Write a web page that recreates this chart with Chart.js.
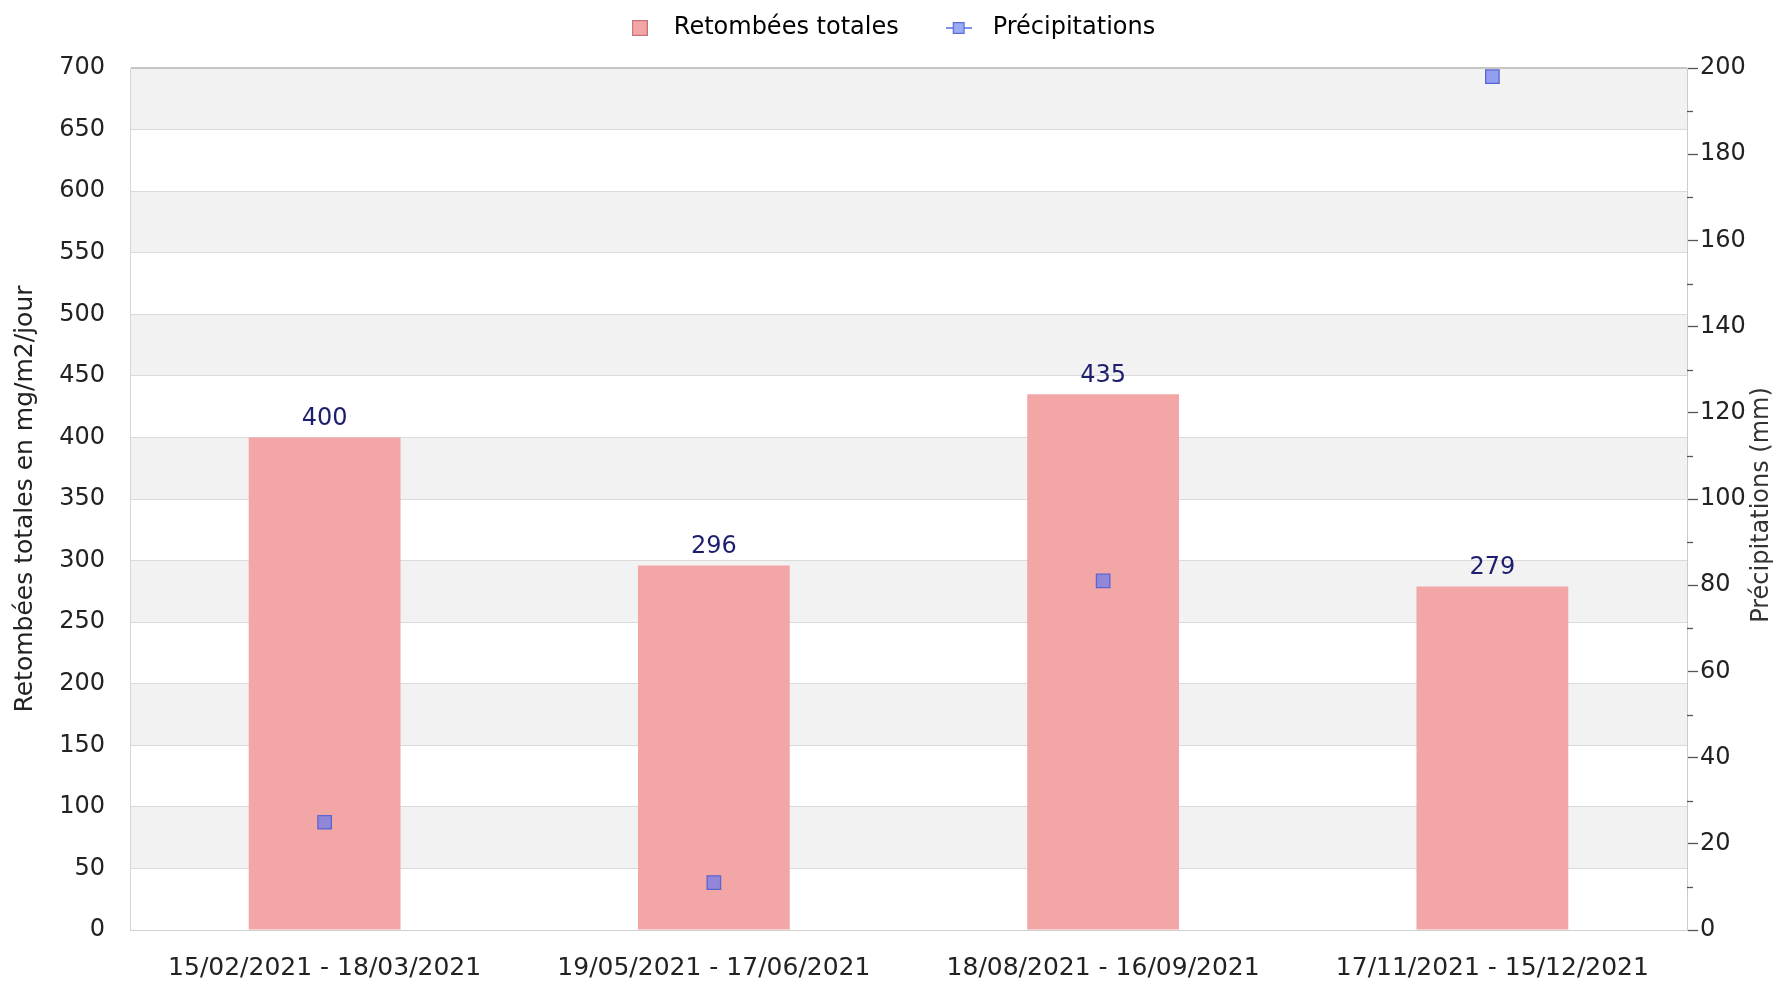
<!DOCTYPE html>
<html><head><meta charset="utf-8">
<script src="https://cdn.jsdelivr.net/npm/chart.js@4/dist/chart.umd.min.js"></script>
<style>html,body{margin:0;padding:0;background:#fff;} #wrap{width:1773px;height:981px;position:relative;}</style>
</head><body><div id="wrap"><canvas id="c"></canvas></div>
<script>
const categories = ['15/02/2021 - 18/03/2021', '19/05/2021 - 17/06/2021', '18/08/2021 - 16/09/2021', '17/11/2021 - 15/12/2021'];
const retombees = [400, 296, 435, 279];
const precipitations = [25, 11, 81, 198];
const seriesNames = ['Retombées totales', 'Précipitations'];
const leftTickValues = [0, 50, 100, 150, 200, 250, 300, 350, 400, 450, 500, 550, 600, 650, 700];
const rightTickValues = [0, 20, 40, 60, 80, 100, 120, 140, 160, 180, 200];
const rightMinorTicks = [10, 30, 50, 70, 90, 110, 130, 150, 170, 190];
const leftTitle = 'Retombées totales en mg/m2/jour';
const rightTitle = 'Précipitations (mm)';

const FONT = 'DejaVu Sans';
Chart.defaults.font.family = FONT;
Chart.defaults.font.size = 24;
Chart.defaults.color = '#333';

function makeBoxImg() {
  const c = document.createElement('canvas'); c.width = 16; c.height = 16;
  const g = c.getContext('2d');
  g.fillStyle = '#f2a6a6'; g.fillRect(0, 0, 16, 16);
  g.strokeStyle = '#c87272'; g.lineWidth = 1.2; g.strokeRect(0.6, 0.6, 14.8, 14.8);
  return c;
}
function makePtImg() {
  const c = document.createElement('canvas'); c.width = 26; c.height = 14;
  const g = c.getContext('2d');
  g.strokeStyle = '#7f92ea'; g.lineWidth = 2;
  g.beginPath(); g.moveTo(0, 7); g.lineTo(26, 7); g.stroke();
  g.fillStyle = '#9aacf5'; g.fillRect(7, 1, 12, 12);
  g.strokeStyle = '#5a6ad8'; g.lineWidth = 1.2; g.strokeRect(7.6, 1.6, 10.8, 10.8);
  return c;
}
const boxImg = makeBoxImg();
const ptImg = makePtImg();

const bandsPlugin = {
  id: 'bands',
  beforeDraw(chart) {
    const y = chart.scales.y, a = chart.chartArea, ctx = chart.ctx;
    ctx.save();
    ctx.fillStyle = '#f2f2f2';
    for (let i = 1; i < leftTickValues.length - 1; i += 2) {
      const top = y.getPixelForValue(leftTickValues[i + 1]);
      const bot = y.getPixelForValue(leftTickValues[i]);
      ctx.fillRect(a.left, top, a.right - a.left, bot - top);
    }
    ctx.restore();
  }
};

const labelsPlugin = {
  id: 'valueLabels',
  afterDatasetsDraw(chart) {
    const ctx = chart.ctx;
    const meta = chart.getDatasetMeta(0);
    ctx.save();
    ctx.font = '24px ' + FONT;
    ctx.fillStyle = '#1e1e6e';
    ctx.textAlign = 'center';
    ctx.textBaseline = 'middle';
    meta.data.forEach((bar, i) => {
      ctx.fillText(String(retombees[i]), bar.x, bar.y - 19);
    });
    ctx.restore();
  }
};

const rightAxisPlugin = {
  id: 'rightAxisExtras',
  afterDraw(chart) {
    const s = chart.scales.y1, ctx = chart.ctx, a = chart.chartArea;
    ctx.save();
    ctx.strokeStyle = '#555';
    ctx.lineWidth = 1.3;
    rightMinorTicks.forEach(v => {
      const py = Math.round(s.getPixelForValue(v)) + 0.5;
      ctx.beginPath(); ctx.moveTo(s.left, py); ctx.lineTo(s.left + 6, py); ctx.stroke();
    });
    ctx.font = '24px ' + FONT;
    ctx.fillStyle = '#333';
    ctx.textAlign = 'center';
    ctx.textBaseline = 'middle';
    ctx.translate(s.right - 11, (a.top + a.bottom) / 2 + 6);
    ctx.rotate(-Math.PI / 2);
    ctx.fillText(rightTitle, 0, 0);
    ctx.restore();
  }
};

const legendFixPlugin = {
  id: 'legendFix',
  afterInit(chart) {
    const lg = chart.legend;
    if (!lg) return;
    const origFit = lg.fit.bind(lg);
    lg.fit = function () { origFit(); this.height = 68; };
    const origDraw = lg.draw.bind(lg);
    lg.draw = function (area) {
      const t = this.top;
      this.top = t - 22;
      origDraw(area);
      this.top = t;
    };
  }
};

new Chart(document.getElementById('c'), {
  type: 'bar',
  data: {
    labels: categories,
    datasets: [
      {
        label: seriesNames[0],
        data: retombees,
        backgroundColor: '#f2a6a6',
        borderWidth: 0,
        yAxisID: 'y',
        categoryPercentage: 1,
        barPercentage: 0.39,
        order: 2
      },
      {
        type: 'line',
        label: seriesNames[1],
        data: precipitations,
        yAxisID: 'y1',
        showLine: false,
        pointStyle: 'rect',
        pointRadius: 9.5,
        pointHoverRadius: 9.5,
        pointBackgroundColor: 'rgba(100,120,240,0.68)',
        pointBorderColor: '#5a64d2',
        pointBorderWidth: 1.3,
        order: 1
      }
    ]
  },
  options: {
    responsive: true,
    maintainAspectRatio: false,
    animation: false,
    layout: { padding: 0 },
    plugins: {
      tooltip: { enabled: false },
      legend: {
        display: true,
        position: 'top',
        labels: {
          usePointStyle: true,
          pointStyleWidth: 44,
          padding: 38,
          color: '#222',
          font: { size: 24, family: FONT },
          generateLabels: () => [
            { text: seriesNames[0], pointStyle: boxImg, fillStyle: '#f2a6a6', strokeStyle: '#c87272', lineWidth: 0, hidden: false, datasetIndex: 0 },
            { text: seriesNames[1], pointStyle: ptImg, fillStyle: '#9aacf5', strokeStyle: '#5a6ad8', lineWidth: 0, hidden: false, datasetIndex: 1 }
          ]
        }
      }
    },
    scales: {
      x: {
        offset: true,
        grid: { display: false, drawTicks: false },
        border: { display: true, color: '#cfcfcf' },
        ticks: { padding: 23, maxRotation: 0, autoSkip: false, color: '#222', font: { size: 25 } },
        afterFit: s => { s.height = 51; }
      },
      y: {
        position: 'left',
        min: 0, max: 700,
        afterBuildTicks: s => { s.ticks = leftTickValues.map(v => ({ value: v })); },
        grid: {
          drawTicks: false,
          color: ctx => (ctx.tick && ctx.tick.value === 700) ? '#c6c6c6' : '#dadada',
          lineWidth: ctx => (ctx.tick && ctx.tick.value === 700) ? 2 : 1
        },
        border: { display: true, color: '#d6d6d6' },
        ticks: { padding: 25, color: '#222', font: { size: 24 } },
        title: { display: true, text: leftTitle, color: '#222', font: { size: 25 }, padding: { top: 10, bottom: 0 } },
        afterFit: s => { s.width = 130; }
      },
      y1: {
        position: 'right',
        min: 0, max: 200,
        afterBuildTicks: s => { s.ticks = rightTickValues.map(v => ({ value: v })); },
        grid: { drawOnChartArea: false, drawTicks: true, tickLength: 11, tickColor: '#555', tickWidth: 1.3 },
        border: { display: true, color: '#cccccc' },
        ticks: { padding: 2, color: '#222', font: { size: 24 } },
        afterFit: s => { s.width = 86; }
      }
    }
  },
  plugins: [legendFixPlugin, bandsPlugin, labelsPlugin, rightAxisPlugin]
});
</script>
</body></html>
